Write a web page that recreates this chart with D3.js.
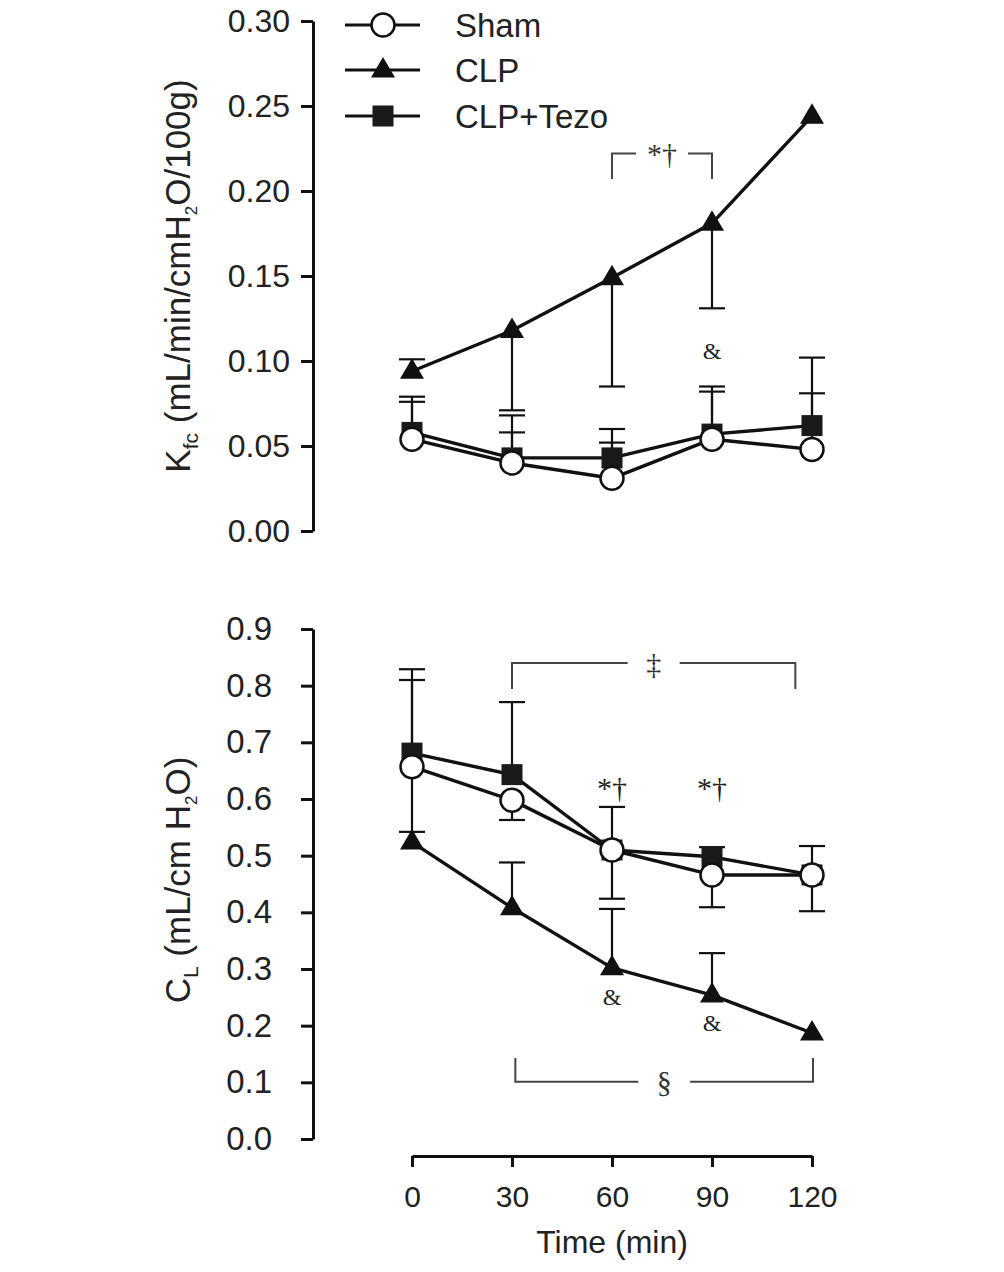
<!DOCTYPE html>
<html>
<head>
<meta charset="utf-8">
<script src="https://cdn.jsdelivr.net/npm/d3@7"></script>
<style>
  html, body { margin: 0; padding: 0; background: #fff; }
  svg { display: block; }
</style>
</head>
<body>
<svg id="chart" width="1004" height="1272"></svg>
<script>
// ---------- data ----------
const times = [0, 30, 60, 90, 120];
const xTickLabels = ["0", "30", "60", "90", "120"];
const seriesNames = ["Sham", "CLP", "CLP+Tezo"];

// Top panel: Kfc (mL/min/cmH2O/100g)
const kfcTicks = [0.00, 0.05, 0.10, 0.15, 0.20, 0.25, 0.30];
const kfcSham = [0.054, 0.040, 0.031, 0.054, 0.048];
const kfcCLP  = [0.094, 0.118, 0.149, 0.181, 0.244];
const kfcTezo = [0.058, 0.043, 0.043, 0.057, 0.062];
// error bar end values (null = not visible)
const kfcShamErr = [0.076, 0.058, 0.052, 0.082, 0.081];
const kfcTezoErr = [0.079, 0.068, 0.060, 0.085, 0.102];
const kfcCLPErr  = [0.101, 0.071, 0.085, 0.131, null];

// Bottom panel: CL (mL/cm H2O)
const clTicks = [0.0, 0.1, 0.2, 0.3, 0.4, 0.5, 0.6, 0.7, 0.8, 0.9];
const clSham = [0.657, 0.598, 0.510, 0.466, 0.466];
const clCLP  = [0.524, 0.408, 0.302, 0.254, 0.187];
const clTezo = [0.681, 0.643, 0.510, 0.498, 0.466];
const clShamErrHi = [0.810, null, 0.586, 0.515, 0.517];
const clShamErrLo = [0.542, 0.563, 0.424, 0.409, 0.402];
const clTezoErr   = [0.829, 0.771, null, null, null];
const clCLPErr    = [null, 0.488, 0.406, 0.328, null];

// annotations (data coordinates)
const kfcBrackets = [{x0: 60, x1: 90, y: 0.222, yEnd: 0.207, label: "*\u2020"}];
const kfcMarks = [{x: 90, y: 0.106, label: "&"}];
const clBrackets = [
  {x0: 30, x1: 115, y: 0.840, yEnd: 0.794, label: "\u2021"},
  {x0: 31, x1: 120.3, y: 0.101, yEnd: 0.143, label: "\u00a7"}
];
const clMarks = [
  {x: 60, y: 0.621, label: "*\u2020"},
  {x: 90, y: 0.621, label: "*\u2020"},
  {x: 60, y: 0.251, label: "&"},
  {x: 90, y: 0.206, label: "&"}
];

// ---------- drawing ----------
const svg = d3.select("#chart");
const SANS = "'Liberation Sans', Arial, Helvetica, sans-serif";
const SERIF = "'Liberation Serif', 'Times New Roman', serif";
const INK = "#111";
const TXT = "#222";

const x = d3.scaleLinear().domain([0, 120]).range([412, 812]);
const yTop = d3.scaleLinear().domain([0, 0.30]).range([531, 21]);
const yBot = d3.scaleLinear().domain([0, 0.9]).range([1139, 629]);
const axisX = 313;

function drawYAxis(scale, ticks, fmt, size, pad) {
  const g = svg.append("g").attr("transform", `translate(${axisX},0)`)
    .call(d3.axisLeft(scale).tickValues(ticks).tickFormat(d3.format(fmt))
      .tickSize(12).tickSizeOuter(0).tickPadding(pad));
  g.select(".domain").attr("stroke", INK).attr("stroke-width", 3);
  g.selectAll(".tick line").attr("stroke", INK).attr("stroke-width", 3);
  g.selectAll(".tick text").attr("fill", TXT).style("font-family", SANS).style("font-size", size + "px");
}
drawYAxis(yTop, kfcTicks, ".2f", 32, 11);
drawYAxis(yBot, clTicks, ".1f", 33, 29);

// x axis
const gx = svg.append("g").attr("transform", "translate(0,1156)")
  .call(d3.axisBottom(x).tickValues(times).tickFormat((d, i) => xTickLabels[i])
    .tickSize(11).tickSizeOuter(0).tickPadding(19));
gx.select(".domain").attr("stroke", INK).attr("stroke-width", 3);
gx.selectAll(".tick line").attr("stroke", INK).attr("stroke-width", 3);
gx.selectAll(".tick text").attr("fill", TXT).style("font-family", SANS).style("font-size", "30px");

svg.append("text").attr("x", 612).attr("y", 1253).attr("text-anchor", "middle")
  .attr("fill", TXT).style("font-family", SANS).style("font-size", "32px").text("Time (min)");

// y titles
const t1 = svg.append("text").attr("transform", "translate(190,276) rotate(-90)")
  .attr("text-anchor", "middle").attr("fill", TXT)
  .style("font-family", SANS).style("font-size", "35px");
t1.append("tspan").text("K");
t1.append("tspan").attr("dy", 8).style("font-size", "21px").text("fc");
t1.append("tspan").attr("dy", -8).text(" (mL/min/cmH");
t1.append("tspan").attr("dy", 7).style("font-size", "17px").text("2");
t1.append("tspan").attr("dy", -7).text("O/100g)");

const t2 = svg.append("text").attr("transform", "translate(190,880) rotate(-90)")
  .attr("text-anchor", "middle").attr("fill", TXT)
  .style("font-family", SANS).style("font-size", "35px");
t2.append("tspan").text("C");
t2.append("tspan").attr("dy", 8).style("font-size", "21px").text("L");
t2.append("tspan").attr("dy", -8).text(" (mL/cm H");
t2.append("tspan").attr("dy", 7).style("font-size", "17px").text("2");
t2.append("tspan").attr("dy", -7).text("O)");

// error bars
const capW = 13;
function errBars(vals, ends, scale) {
  const g = svg.append("g").attr("stroke", INK).attr("stroke-width", 2.2);
  times.forEach((t, i) => {
    const e = ends[i];
    if (e === null || e === undefined) return;
    const cx = x(t);
    g.append("line").attr("x1", cx).attr("x2", cx).attr("y1", scale(vals[i])).attr("y2", scale(e));
    g.append("line").attr("x1", cx - capW).attr("x2", cx + capW).attr("y1", scale(e)).attr("y2", scale(e));
  });
}
errBars(kfcCLP, kfcCLPErr, yTop);
errBars(kfcTezo, kfcTezoErr, yTop);
errBars(kfcSham, kfcShamErr, yTop);
errBars(clCLP, clCLPErr, yBot);
errBars(clTezo, clTezoErr, yBot);
errBars(clSham, clShamErrHi, yBot);
errBars(clSham, clShamErrLo, yBot);

// markers
function marker(g, kind, cx, cy) {
  if (kind === "circle") {
    g.append("circle").attr("cx", cx).attr("cy", cy).attr("r", 11.5)
      .attr("fill", "#fff").attr("stroke", INK).attr("stroke-width", 2.5);
  } else if (kind === "triangle") {
    g.append("path").attr("d", `M${cx},${cy - 13}L${cx + 12},${cy + 7.5}L${cx - 12},${cy + 7.5}Z`)
      .attr("fill", INK);
  } else {
    g.append("rect").attr("x", cx - 10.5).attr("y", cy - 10.5).attr("width", 21).attr("height", 21)
      .attr("fill", "#1a1a1a");
  }
}
function series(vals, scale, kind) {
  const g = svg.append("g");
  const line = d3.line().x((d, i) => x(times[i])).y(d => scale(d));
  g.append("path").attr("d", line(vals)).attr("fill", "none")
    .attr("stroke", INK).attr("stroke-width", 3.4).attr("stroke-linejoin", "round");
  vals.forEach((v, i) => marker(g, kind, x(times[i]), scale(v)));
}
series(kfcTezo, yTop, "square");
series(kfcCLP, yTop, "triangle");
series(kfcSham, yTop, "circle");
series(clTezo, yBot, "square");
series(clCLP, yBot, "triangle");
series(clSham, yBot, "circle");

// brackets and marks
function brackets(list, scale) {
  list.forEach(b => {
    const g = svg.append("g").attr("stroke", "#444").attr("stroke-width", 2).attr("fill", "none");
    const x0 = x(b.x0), x1 = x(b.x1), yy = scale(b.y), ye = scale(b.yEnd);
    const mid = (x0 + x1) / 2;
    const gap = 26;
    g.append("path").attr("d", `M${x0},${ye}V${yy}H${mid - gap}`);
    g.append("path").attr("d", `M${mid + gap},${yy}H${x1}V${ye}`);
    svg.append("text").attr("x", mid).attr("y", yy).attr("dy", "0.35em").attr("text-anchor", "middle")
      .attr("fill", "#333").style("font-family", SERIF).style("font-size", "30px").text(b.label);
  });
}
function marks(list, scale) {
  list.forEach(m => {
    svg.append("text").attr("x", x(m.x)).attr("y", scale(m.y)).attr("dy", "0.35em")
      .attr("text-anchor", "middle").attr("fill", "#222")
      .style("font-family", SERIF).style("font-size", m.label === "&" ? "24px" : "30px").text(m.label);
  });
}
brackets(kfcBrackets, yTop);
marks(kfcMarks, yTop);
brackets(clBrackets, yBot);
marks(clMarks, yBot);

// legend
const kinds = ["circle", "triangle", "square"];
const legRowY = [25, 70, 116];
seriesNames.forEach((name, i) => {
  const g = svg.append("g");
  const yy = legRowY[i];
  g.append("line").attr("x1", 345).attr("x2", 420).attr("y1", yy).attr("y2", yy)
    .attr("stroke", INK).attr("stroke-width", 3);
  marker(g, kinds[i], 383, yy);
  g.append("text").attr("x", 455).attr("y", yy).attr("dy", "0.36em").attr("fill", TXT)
    .style("font-family", SANS).style("font-size", "33px").text(name);
});
</script>
</body>
</html>
